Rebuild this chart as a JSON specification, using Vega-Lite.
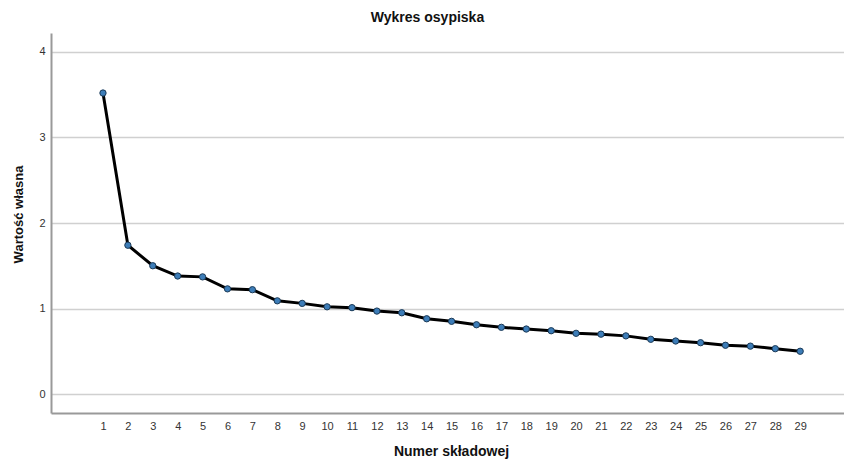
{
  "$schema": "https://vega.github.io/schema/vega-lite/v6.json",
  "width": 793,
  "height": 380,
  "autosize": {"type": "none"},
  "padding": {"left": 51, "top": 33, "right": 0, "bottom": 47},
  "background": "white",
  "title": {
    "text": "Wykres osypiska",
    "font": "Liberation Sans",
    "fontSize": 14,
    "fontWeight": "bold",
    "color": "#111111",
    "offset": 8,
    "dx": -20
  },
  "config": {
    "view": {"stroke": null},
    "font": "Liberation Sans"
  },
  "data": {
    "values": [
      {"komponent": 1, "wartosc": 3.52},
      {"komponent": 2, "wartosc": 1.74},
      {"komponent": 3, "wartosc": 1.50},
      {"komponent": 4, "wartosc": 1.38},
      {"komponent": 5, "wartosc": 1.37},
      {"komponent": 6, "wartosc": 1.23},
      {"komponent": 7, "wartosc": 1.22},
      {"komponent": 8, "wartosc": 1.09},
      {"komponent": 9, "wartosc": 1.06},
      {"komponent": 10, "wartosc": 1.02},
      {"komponent": 11, "wartosc": 1.01},
      {"komponent": 12, "wartosc": 0.97},
      {"komponent": 13, "wartosc": 0.95},
      {"komponent": 14, "wartosc": 0.88},
      {"komponent": 15, "wartosc": 0.85},
      {"komponent": 16, "wartosc": 0.81},
      {"komponent": 17, "wartosc": 0.78},
      {"komponent": 18, "wartosc": 0.76},
      {"komponent": 19, "wartosc": 0.74},
      {"komponent": 20, "wartosc": 0.71},
      {"komponent": 21, "wartosc": 0.70},
      {"komponent": 22, "wartosc": 0.68},
      {"komponent": 23, "wartosc": 0.64},
      {"komponent": 24, "wartosc": 0.62},
      {"komponent": 25, "wartosc": 0.60},
      {"komponent": 26, "wartosc": 0.57},
      {"komponent": 27, "wartosc": 0.56},
      {"komponent": 28, "wartosc": 0.53},
      {"komponent": 29, "wartosc": 0.50}
    ]
  },
  "encoding": {
    "x": {
      "field": "komponent",
      "type": "quantitative",
      "scale": {"domain": [-1.088, 30.76], "nice": false, "zero": false},
      "axis": {
        "title": "Numer składowej",
        "values": [1,2,3,4,5,6,7,8,9,10,11,12,13,14,15,16,17,18,19,20,21,22,23,24,25,26,27,28,29],
        "grid": false,
        "ticks": false,
        "domainColor": "#999999",
        "domainWidth": 2,
        "labelFont": "Liberation Sans",
        "labelFontSize": 11,
        "labelColor": "#333333",
        "labelPadding": 7,
        "labelFlush": false,
        "titleFont": "Liberation Sans",
        "titleFontSize": 14,
        "titleFontWeight": "bold",
        "titleColor": "#111111",
        "titleX": 400,
        "titleY": 38,
        "titleAlign": "center",
        "titleBaseline": "middle"
      }
    },
    "y": {
      "field": "wartosc",
      "type": "quantitative",
      "scale": {"domain": [-0.222, 4.222], "nice": false, "zero": false},
      "axis": {
        "title": "Wartość własna",
        "values": [0, 1, 2, 3, 4],
        "grid": true,
        "gridColor": "#d0d0d0",
        "gridWidth": 1.5,
        "ticks": false,
        "domainColor": "#999999",
        "domainWidth": 2,
        "labelFont": "Liberation Sans",
        "labelFontSize": 11,
        "labelColor": "#333333",
        "labelPadding": 6,
        "labelFlush": false,
        "titleFont": "Liberation Sans",
        "titleFontSize": 13,
        "titleFontWeight": "bold",
        "titleColor": "#111111",
        "titleAngle": -90,
        "titleX": -33,
        "titleY": 181,
        "titleAlign": "center",
        "titleBaseline": "middle"
      }
    }
  },
  "layer": [
    {
      "mark": {"type": "line", "color": "#000000", "strokeWidth": 3}
    },
    {
      "mark": {"type": "point", "filled": true, "fill": "#3d7db8", "stroke": "#1b3a57", "strokeWidth": 1, "size": 40, "opacity": 1}
    }
  ]
}
